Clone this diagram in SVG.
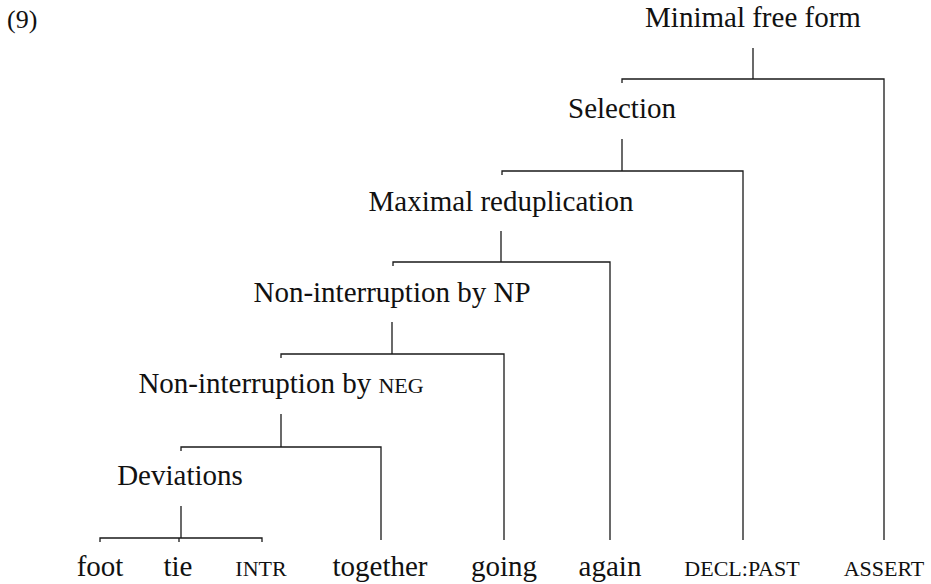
<svg xmlns="http://www.w3.org/2000/svg" width="931" height="584" viewBox="0 0 931 584">
  <style>
    text { font-family: "Liberation Serif", "DejaVu Serif", serif; font-size: 29px; fill: #111; }
    .lbl { text-anchor: middle; }
    .sc { font-size: 22px; }
    .edge { fill: none; stroke: #1a1a1a; stroke-width: 1.3; }
  </style>
  <rect width="931" height="584" fill="#fff"/>

  <text x="7" y="28" style="font-size:26px">(9)</text>

  <g id="connectors">
    <!-- Minimal free form -->
    <path class="edge" d="M753 48 V79"/>
    <path class="edge" d="M622 83 V79 H884 V540"/>
    <!-- Selection -->
    <path class="edge" d="M622 139 V171"/>
    <path class="edge" d="M502 175 V171 H743 V540"/>
    <!-- Maximal reduplication -->
    <path class="edge" d="M501 231 V262"/>
    <path class="edge" d="M393 266 V262 H610 V540"/>
    <!-- Non-interruption by NP -->
    <path class="edge" d="M392 322 V354"/>
    <path class="edge" d="M281 358 V354 H504 V540"/>
    <!-- Non-interruption by NEG -->
    <path class="edge" d="M281 414 V447"/>
    <path class="edge" d="M181 451 V447 H381 V540"/>
    <!-- Deviations -->
    <path class="edge" d="M181 506 V538"/>
    <path class="edge" d="M100 542 V538 H262 V542 M179 538 V542"/>
  </g>

  <g id="node-minimal-free-form"><text class="lbl" x="753" y="27">Minimal free form</text></g>
  <g id="node-selection"><text class="lbl" x="622" y="118">Selection</text></g>
  <g id="node-maximal-reduplication"><text class="lbl" x="501" y="211">Maximal reduplication</text></g>
  <g id="node-noninterruption-np"><text class="lbl" x="392" y="302">Non-interruption by NP</text></g>
  <g id="node-noninterruption-neg"><text class="lbl" x="281" y="393">Non-interruption by <tspan class="sc">NEG</tspan></text></g>
  <g id="node-deviations"><text class="lbl" x="180" y="485">Deviations</text></g>

  <g id="leaf-foot"><text class="lbl" x="100" y="576">foot</text></g>
  <g id="leaf-tie"><text class="lbl" x="178" y="576">tie</text></g>
  <g id="leaf-intr"><text class="lbl sc" x="261" y="576">INTR</text></g>
  <g id="leaf-together"><text class="lbl" x="380" y="576">together</text></g>
  <g id="leaf-going"><text class="lbl" x="504" y="576">going</text></g>
  <g id="leaf-again"><text class="lbl" x="610" y="576">again</text></g>
  <g id="leaf-decl-past"><text class="lbl sc" x="742" y="576">DECL:PAST</text></g>
  <g id="leaf-assert"><text class="lbl sc" x="884" y="576">ASSERT</text></g>
</svg>
